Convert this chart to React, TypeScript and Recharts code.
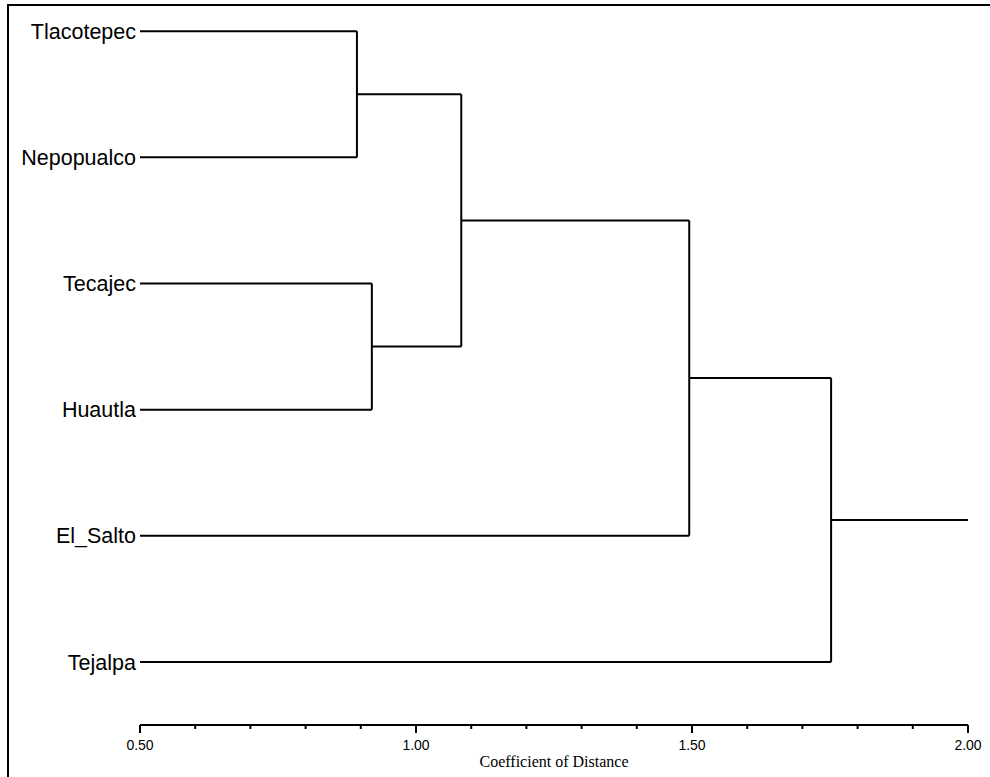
import { ComposedChart, XAxis, YAxis, ReferenceLine, Scatter } from 'recharts';

// leaves, top to bottom
const leaves = ['Tlacotepec', 'Nepopualco', 'Tecajec', 'Huautla', 'El_Salto', 'Tejalpa'];

// merges: clusters get ids after the leaves (6, 7, 8, ...)
const mergeLeft = [0, 2, 6, 8, 9];
const mergeRight = [1, 3, 7, 4, 5];
const mergeHeights = [0.893, 0.92, 1.082, 1.495, 1.752];

const majorTicks = [0.5, 1.0, 1.5, 2.0];
const minorTicks = [0.6, 0.7, 0.8, 0.9, 1.1, 1.2, 1.3, 1.4, 1.6, 1.7, 1.8, 1.9];
const axisMin = 0.5;
const axisMax = 2.0;

type Node = { x: number; y: number };

const nodes: Node[] = leaves.map((_, i) => ({ x: axisMin, y: i }));
mergeHeights.forEach((h, k) => {
    const a = nodes[mergeLeft[k]];
    const b = nodes[mergeRight[k]];
    nodes.push({ x: h, y: (a.y + b.y) / 2 });
});

const segments: [Node, Node][] = [];
mergeHeights.forEach((h, k) => {
    const a = nodes[mergeLeft[k]];
    const b = nodes[mergeRight[k]];
    segments.push([{ x: a.x, y: a.y }, { x: h, y: a.y }]);
    segments.push([{ x: b.x, y: b.y }, { x: h, y: b.y }]);
    segments.push([{ x: h, y: a.y }, { x: h, y: b.y }]);
});
const root = nodes[nodes.length - 1];
segments.push([{ x: root.x, y: root.y }, { x: axisMax, y: root.y }]);

const allTicks = [...majorTicks, ...minorTicks].sort((a, b) => a - b);

const DistanceTick = ({ x, y, payload }: any) => {
    const major = majorTicks.includes(payload.value);
    return (
        <g>
            <line x1={x} x2={x} y1={y} y2={y + (major ? 8 : 4)} stroke="#000" strokeWidth={2} />
            {major && (
                <text
                    x={x}
                    y={y + 25}
                    textAnchor="middle"
                    fontSize={14}
                    fontFamily="'Liberation Sans', Arial, sans-serif"
                    fill="#000"
                >
                    {payload.value.toFixed(2)}
                </text>
            )}
        </g>
    );
};

export default function App() {
    return (
        <div style={{ position: 'absolute', left: 0, top: 0, width: 990, height: 777, background: '#fff' }}>
            <div
                style={{
                    position: 'absolute',
                    left: 7,
                    top: 4,
                    width: 990 - 7,
                    height: 777 - 4,
                    borderLeft: '2px solid #000',
                    borderTop: '2px solid #000',
                    boxSizing: 'border-box',
                }}
            />
            <div style={{ position: 'absolute', left: 0, top: 0 }}>
                <ComposedChart width={990} height={777} margin={{ top: 6, right: 22, bottom: 0, left: 0 }}>
                    <XAxis
                        type="number"
                        dataKey="x"
                        domain={[axisMin, axisMax]}
                        ticks={allTicks}
                        interval={0}
                        tick={<DistanceTick />}
                        tickLine={false}
                        tickSize={0}
                        tickMargin={0}
                        axisLine={{ stroke: '#000', strokeWidth: 2 }}
                        height={52}
                        allowDataOverflow
                        label={{
                            value: 'Coefficient of Distance',
                            position: 'insideBottom',
                            offset: 10,
                            fontSize: 16,
                            fontFamily: "'Liberation Serif', 'Times New Roman', serif",
                            fill: '#000',
                        }}
                    />
                    <YAxis
                        type="number"
                        dataKey="y"
                        domain={[-0.2, 5.5]}
                        reversed
                        ticks={leaves.map((_, i) => i)}
                        interval={0}
                        tickFormatter={(v: number) => leaves[v] ?? ''}
                        tick={{ fill: '#000', fontSize: 21.5, fontFamily: "'Liberation Sans', Arial, sans-serif" }}
                        axisLine={false}
                        tickLine={false}
                        tickSize={0}
                        tickMargin={4}
                        width={140}
                        allowDataOverflow
                    />
                    <Scatter data={nodes} shape={() => <g />} isAnimationActive={false} />
                    {segments.map((s, i) => (
                        <ReferenceLine
                            key={`seg-${i}`}
                            segment={s}
                            stroke="#000"
                            strokeWidth={2}
                            ifOverflow="visible"
                        />
                    ))}
                </ComposedChart>
            </div>
        </div>
    );
}
